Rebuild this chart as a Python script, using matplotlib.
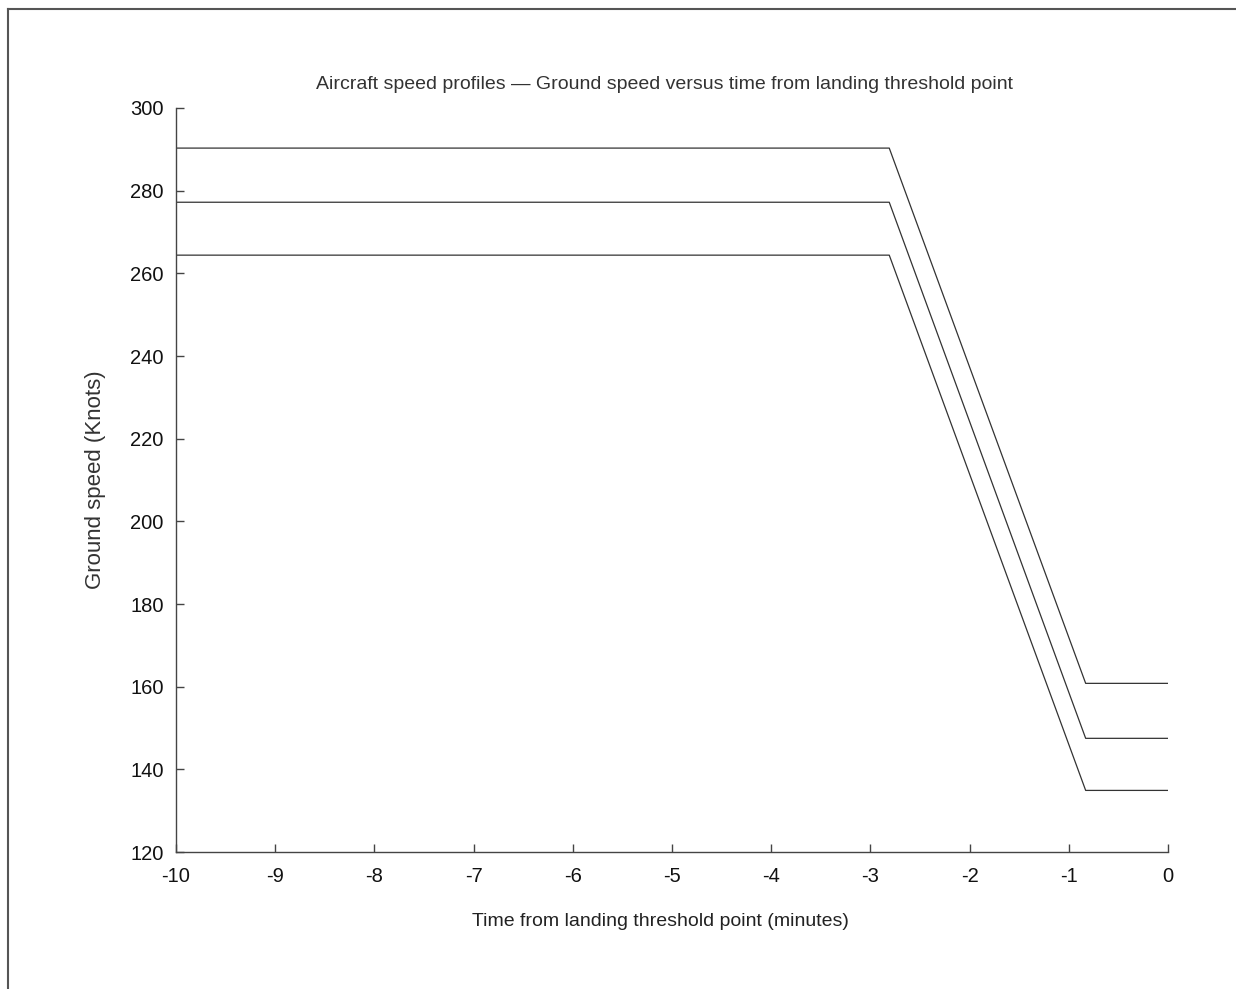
import matplotlib
matplotlib.use("Agg")
import matplotlib.pyplot as plt
from matplotlib.lines import Line2D

plt.rcParams['font.family'] = ['Liberation Sans Narrow', 'Liberation Sans', 'DejaVu Sans']

# Data: time (minutes) and ground speed (knots) for three profiles
time_points = [-10, -2.81, -0.83, 0]
speed_high = [290.3, 290.3, 160.8, 160.8]
speed_mid = [277.2, 277.2, 147.5, 147.5]
speed_low = [264.4, 264.4, 134.9, 134.9]

x_ticks = [-10, -9, -8, -7, -6, -5, -4, -3, -2, -1, 0]
y_ticks = [120, 140, 160, 180, 200, 220, 240, 260, 280, 300]

title = "Aircraft speed profiles \u2014 Ground speed versus time from landing threshold point"
xlabel = "Time from landing threshold point (minutes)"
ylabel = "Ground speed (Knots)"

fig = plt.figure(figsize=(12.36, 9.89), dpi=100)
ax = fig.add_axes([176/1236, 1-852/989, (1168-176)/1236, (852-108)/989])

line_color = '#333333'
for s in (speed_high, speed_mid, speed_low):
    ax.plot(time_points, s, color=line_color, linewidth=0.9)

ax.set_xlim(-10, 0)
ax.set_ylim(120, 300)
ax.set_xticks(x_ticks)
ax.set_yticks(y_ticks)
ax.set_xticklabels([str(t) for t in x_ticks])
ax.set_yticklabels([str(v) for v in y_ticks])

for side in ('top', 'right'):
    ax.spines[side].set_visible(False)
for side in ('left', 'bottom'):
    ax.spines[side].set_color('#444444')
    ax.spines[side].set_linewidth(1.0)

ax.tick_params(axis='both', direction='in', length=6, width=1.0, color='#444444',
               labelsize=14.5, labelcolor='#111111')
ax.tick_params(axis='x', pad=11)
ax.tick_params(axis='y', pad=9)

ax.set_title(title, fontsize=14, color='#333333', pad=14, x=(664-176)/992)
ax.set_xlabel(xlabel, fontsize=14, color='#222222')
ax.xaxis.set_label_coords((660-176)/992, -(913-852)/744)
ax.xaxis.label.set_va('top')
ax.set_ylabel(ylabel, fontsize=16, color='#333333')
ax.yaxis.set_label_coords((95-176)/992, 0.5)
ax.yaxis.label.set_va('center')

# Outer frame (left and top edges visible)
fig.add_artist(Line2D([8/1236, 8/1236], [0, 1-9/989], transform=fig.transFigure,
                      color='#555555', linewidth=1.5))
fig.add_artist(Line2D([8/1236, 1], [1-9/989, 1-9/989], transform=fig.transFigure,
                      color='#555555', linewidth=1.5))

fig.savefig("out.png", dpi=100)
